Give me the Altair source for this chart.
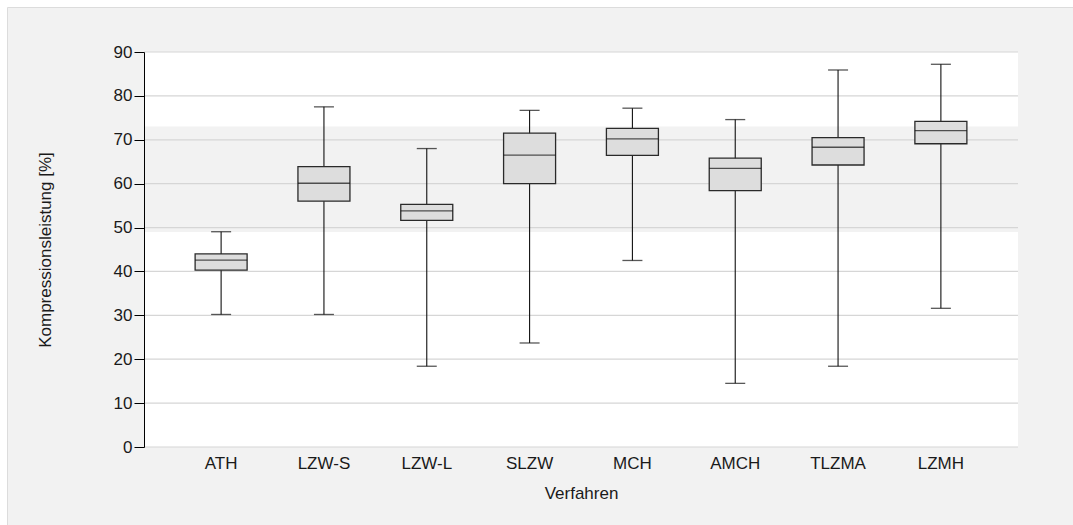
import altair as alt
import pandas as pd

# Box-plot statistics per method (compression in %)
methods = ["ATH", "LZW-S", "LZW-L", "SLZW", "MCH", "AMCH", "TLZMA", "LZMH"]
whisker_low = [30.2, 30.2, 18.4, 23.7, 42.5, 14.5, 18.4, 31.6]
quartile_1 = [40.3, 56.0, 51.65, 60.0, 66.45, 58.4, 64.25, 69.1]
median = [42.6, 60.1, 53.8, 66.5, 70.2, 63.5, 68.3, 72.1]
quartile_3 = [44.0, 63.9, 55.3, 71.5, 72.6, 65.8, 70.5, 74.2]
whisker_high = [49.05, 77.5, 68.0, 76.7, 77.2, 74.6, 85.9, 87.2]

# Shaded reference range and y-axis ticks
band_low, band_high = [49.0], [73.0]
y_ticks = [0, 10, 20, 30, 40, 50, 60, 70, 80, 90]

W, H = 874, 395
FONT = "Liberation Sans"

df = pd.DataFrame({
    "Verfahren": methods,
    "lo": whisker_low,
    "q1": quartile_1,
    "med": median,
    "q3": quartile_3,
    "hi": whisker_high,
})
band_df = pd.DataFrame({"a": band_low, "b": band_high})
grid_df = pd.DataFrame({"v": y_ticks})
one = alt.Data(values=[{}])

x_scale = alt.Scale(domain=methods, paddingInner=0, paddingOuter=0.25)
y_scale = alt.Scale(domain=[0, 90], nice=False)

x_enc = alt.X(
    "Verfahren:N",
    scale=x_scale,
    sort=methods,
    axis=alt.Axis(
        title="Verfahren",
        labelAngle=0,
        domain=False,
        ticks=False,
        tickSize=0,
        grid=False,
        labelPadding=8,
        titlePadding=14,
        zindex=2,
    ),
)
y_axis = alt.Axis(
    title="Kompressionsleistung [%]",
    values=y_ticks,
    grid=False,
    domain=True,
    domainColor="#000000",
    tickColor="#000000",
    tickSize=10,
    labelPadding=2,
    titleX=-94,
    titleY=H / 2,
    titleBaseline="alphabetic",
    zindex=2,
)

# Light-grey outer panel with a thin border, and the white plotting area
panel = alt.Chart(one).mark_rect(
    fill="#f2f2f2", stroke="#dcdcdc", strokeWidth=1
).encode(
    x=alt.value(-136.5), x2=alt.value(W + 200),
    y=alt.value(-44.5), y2=alt.value(H + 200),
)
plot_bg = alt.Chart(one).mark_rect(fill="white").encode(
    x=alt.value(0), x2=alt.value(W), y=alt.value(0), y2=alt.value(H)
)

band = alt.Chart(band_df).mark_rect(fill="#f2f2f2").encode(
    y=alt.Y("a:Q", scale=y_scale, axis=y_axis),
    y2="b:Q",
    x=alt.value(0),
    x2=alt.value(W),
)

grid = alt.Chart(grid_df).mark_rule(color="#d6d6d6", strokeWidth=1.2).encode(
    y=alt.Y("v:Q", scale=y_scale)
)

base = alt.Chart(df)

whisker = base.mark_rule(color="#111111", strokeWidth=1.1).encode(
    x=x_enc,
    y=alt.Y("lo:Q", scale=y_scale),
    y2="hi:Q",
)
box = base.mark_bar(
    size=52, fill="#dddddd", stroke="#2a2a2a", strokeWidth=1.3
).encode(
    x=x_enc,
    y=alt.Y("q1:Q", scale=y_scale),
    y2="q3:Q",
)
mid = base.mark_tick(
    size=52, thickness=1.3, color="#111111", orient="horizontal"
).encode(x=x_enc, y=alt.Y("med:Q", scale=y_scale))
cap_hi = base.mark_tick(
    size=20, thickness=1.3, color="#111111", orient="horizontal"
).encode(x=x_enc, y=alt.Y("hi:Q", scale=y_scale))
cap_lo = base.mark_tick(
    size=20, thickness=1.3, color="#111111", orient="horizontal"
).encode(x=x_enc, y=alt.Y("lo:Q", scale=y_scale))

chart = (
    alt.layer(panel, plot_bg, band, grid, whisker, box, mid, cap_hi, cap_lo)
    .properties(
        width=W,
        height=H,
        autosize=alt.AutoSizeParams(type="none"),
        padding={"left": 144, "top": 52, "right": 55, "bottom": 78},
        background="white",
    )
    .configure_view(stroke=None, fill=None)
    .configure_axis(
        labelFont=FONT,
        titleFont=FONT,
        labelFontSize=17,
        titleFontSize=17,
        titleFontWeight="normal",
        labelColor="#1a1a1a",
        titleColor="#1a1a1a",
    )
)

chart.save("out.html", embed_options={"renderer": "svg", "actions": False})
